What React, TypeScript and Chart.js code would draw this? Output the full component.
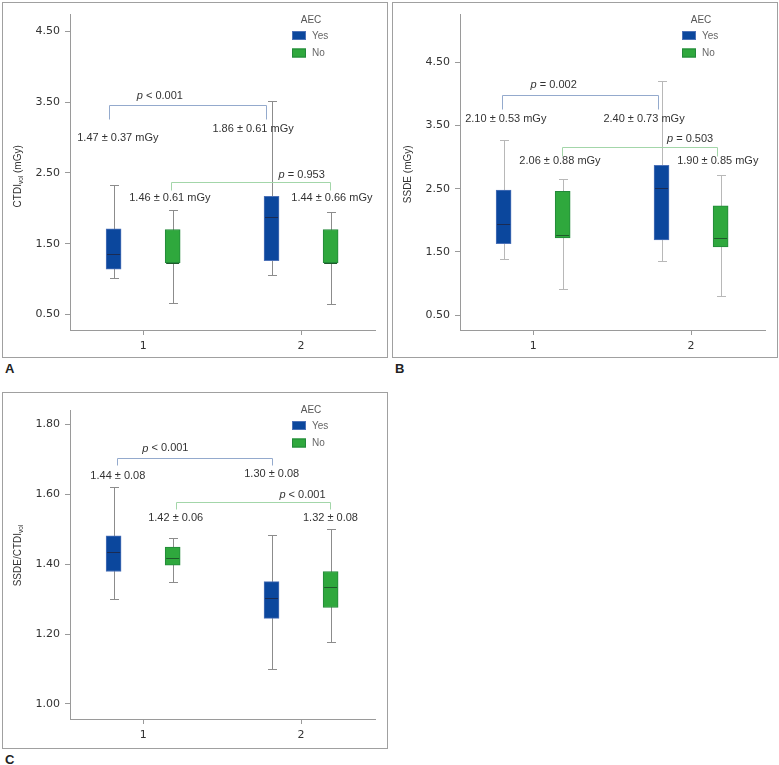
import { useEffect, useRef } from 'react';
import { Chart, registerables } from 'chart.js';

Chart.register(...registerables);

// ---------- data ----------
const groupPositions = [1, 2];
const groupLabels = ['1', '2'];
const seriesNames = ['Yes', 'No'];
const legendTitle = 'AEC';

// [min, q1, median, q3, max] for group 1 and group 2
const ctdiYes = [[1.01, 1.14, 1.35, 1.71, 2.33], [1.05, 1.26, 1.88, 2.17, 3.52]];
const ctdiNo = [[0.66, 1.23, 1.23, 1.70, 1.98], [0.64, 1.23, 1.23, 1.70, 1.95]];
const ssdeYes = [[1.39, 1.63, 1.94, 2.48, 3.27], [1.36, 1.69, 2.51, 2.87, 4.21]];
const ssdeNo = [[0.91, 1.72, 1.77, 2.46, 2.66], [0.80, 1.58, 1.72, 2.23, 2.72]];
const ratioYes = [[1.30, 1.379, 1.434, 1.481, 1.622], [1.10, 1.245, 1.303, 1.35, 1.482]];
const ratioNo = [[1.35, 1.397, 1.417, 1.449, 1.476], [1.177, 1.276, 1.334, 1.379, 1.50]];

const ctdiTicks = [0.5, 1.5, 2.5, 3.5, 4.5];
const ssdeTicks = [0.5, 1.5, 2.5, 3.5, 4.5];
const ratioTicks = [1.0, 1.2, 1.4, 1.6, 1.8];

// mean ± SD labels: Yes-1, Yes-2, No-1, No-2
const ctdiMeans = ['1.47 ± 0.37 mGy', '1.86 ± 0.61 mGy', '1.46 ± 0.61 mGy', '1.44 ± 0.66 mGy'];
const ssdeMeans = ['2.10 ± 0.53 mGy', '2.40 ± 0.73 mGy', '2.06 ± 0.88 mGy', '1.90 ± 0.85 mGy'];
const ratioMeans = ['1.44 ± 0.08', '1.30 ± 0.08', '1.42 ± 0.06', '1.32 ± 0.08'];

// p-values: Yes comparison, No comparison
const ctdiP = ['< 0.001', '= 0.953'];
const ssdeP = ['= 0.002', '= 0.503'];
const ratioP = ['< 0.001', '< 0.001'];

// ---------- layout (data coordinates of annotations) ----------
const ctdiMeanAt = [[0.84, 3.0], [1.696, 3.117], [1.169, 2.146], [2.195, 2.146]];
const ssdeMeanAt = [[0.827, 3.598], [1.702, 3.598], [1.17, 2.941], [2.169, 2.941]];
const ratioMeanAt = [[0.84, 1.653], [1.814, 1.658], [1.206, 1.533], [2.186, 1.533]];

// [x1, x2, y, yEnd, textX, textY]
const ctdiBrackets = [[0.781, 1.778, 3.459, 3.257, 1.106, 3.595], [1.178, 2.186, 2.366, 2.263, 2.004, 2.47]];
const ssdeBrackets = [[0.80, 1.793, 3.99, 3.765, 1.13, 4.149], [1.181, 2.162, 3.166, 3.02, 1.994, 3.292]];
const ratioBrackets = [[0.835, 1.814, 1.705, 1.684, 1.141, 1.731], [1.207, 2.186, 1.577, 1.558, 2.009, 1.598]];

// ---------- styles ----------
const boxOffsets = [-0.187, 0.187];
const fills = ['#0b479d', '#2fa83d'];
const borders = ['#4d72b8', '#23883a'];
const medianColors = ['#1b2b52', '#1e5a2a'];
const bracketColors = ['#94aacd', '#a3d6a9'];
const textColor = '#333333';
const axisColor = '#9a9a9a';
const tickFont = 'DejaVu Sans';
const annoFont = 'Liberation Sans';

type Panel = {
  yes: number[][];
  no: number[][];
  ticks: number[];
  yMin: number;
  yMax: number;
  means: string[];
  meanAt: number[][];
  pValues: string[];
  brackets: number[][];
  whiskerColor: string;
  titleParts: { t: string; sub?: boolean }[];
  titleDy: number;
  width: number;
  height: number;
  xAxisHeight: number;
  top: number;
};

function makePlugin(p: Panel) {
  return {
    id: 'boxAnno',
    beforeDatasetsDraw(chart: any) {
      const { ctx } = chart;
      const x = chart.scales.x;
      const y = chart.scales.y;
      ctx.save();
      ctx.strokeStyle = p.whiskerColor;
      ctx.lineWidth = 1;
      chart.data.datasets.forEach((ds: any) => {
        ds.stats.forEach((s: number[], gi: number) => {
          const px = Math.round(x.getPixelForValue(ds.data[gi].x)) + 0.5;
          const yLo = Math.round(y.getPixelForValue(s[0])) + 0.5;
          const yHi = Math.round(y.getPixelForValue(s[4])) + 0.5;
          ctx.beginPath();
          ctx.moveTo(px, yHi);
          ctx.lineTo(px, yLo);
          ctx.moveTo(px - 4.5, yHi);
          ctx.lineTo(px + 4.5, yHi);
          ctx.moveTo(px - 4.5, yLo);
          ctx.lineTo(px + 4.5, yLo);
          ctx.stroke();
        });
      });
      ctx.restore();
    },
    afterDatasetsDraw(chart: any) {
      const { ctx, chartArea } = chart;
      const x = chart.scales.x;
      const y = chart.scales.y;
      ctx.save();
      // medians
      chart.data.datasets.forEach((ds: any, di: number) => {
        const meta = chart.getDatasetMeta(di);
        ds.stats.forEach((s: number[], gi: number) => {
          const el = meta.data[gi];
          const py = Math.round(y.getPixelForValue(s[2])) + 0.5;
          ctx.strokeStyle = medianColors[di];
          ctx.lineWidth = 1;
          ctx.beginPath();
          ctx.moveTo(el.x - el.width / 2 + 1, py);
          ctx.lineTo(el.x + el.width / 2 - 1, py);
          ctx.stroke();
        });
      });
      // brackets
      p.brackets.forEach((b, bi) => {
        const x1 = Math.round(x.getPixelForValue(b[0])) + 0.5;
        const x2 = Math.round(x.getPixelForValue(b[1])) + 0.5;
        const yb = Math.round(y.getPixelForValue(b[2])) + 0.5;
        const ye = Math.round(y.getPixelForValue(b[3])) + 0.5;
        ctx.strokeStyle = bracketColors[bi];
        ctx.lineWidth = 1;
        ctx.beginPath();
        ctx.moveTo(x1, ye);
        ctx.lineTo(x1, yb);
        ctx.lineTo(x2, yb);
        ctx.lineTo(x2, ye);
        ctx.stroke();
        // p text
        const tx = x.getPixelForValue(b[4]);
        const ty = y.getPixelForValue(b[5]);
        ctx.fillStyle = textColor;
        ctx.textBaseline = 'middle';
        ctx.textAlign = 'left';
        ctx.font = `italic 11px ${annoFont}`;
        const wp = ctx.measureText('p').width;
        ctx.font = `11px ${annoFont}`;
        const rest = ' ' + p.pValues[bi];
        const wr = ctx.measureText(rest).width;
        const sx = tx - (wp + wr) / 2;
        ctx.font = `italic 11px ${annoFont}`;
        ctx.fillText('p', sx, ty);
        ctx.font = `11px ${annoFont}`;
        ctx.fillText(rest, sx + wp, ty);
      });
      // means
      ctx.fillStyle = textColor;
      ctx.font = `11px ${annoFont}`;
      ctx.textAlign = 'center';
      ctx.textBaseline = 'middle';
      p.means.forEach((m, i) => {
        ctx.fillText(m, x.getPixelForValue(p.meanAt[i][0]), y.getPixelForValue(p.meanAt[i][1]));
      });
      // legend
      const lx = chartArea.right - 83;
      ctx.fillStyle = '#555';
      ctx.font = `10px ${annoFont}`;
      ctx.textAlign = 'center';
      ctx.fillText(legendTitle, chartArea.right - 64, 17);
      chart.data.datasets.forEach((ds: any, di: number) => {
        const top = 28 + di * 17.5;
        ctx.fillStyle = ds.backgroundColor;
        ctx.fillRect(lx, top, 14, 9);
        ctx.strokeStyle = ds.borderColor;
        ctx.strokeRect(lx + 0.5, top + 0.5, 13, 8);
        ctx.fillStyle = '#666';
        ctx.textAlign = 'left';
        ctx.fillText(ds.label, lx + 20, top + 5);
      });
      // y title
      const cy = (chartArea.top + chartArea.bottom) / 2 + p.titleDy;
      ctx.translate(14.5, cy);
      ctx.rotate(-Math.PI / 2);
      ctx.fillStyle = textColor;
      ctx.textAlign = 'left';
      ctx.textBaseline = 'alphabetic';
      let total = 0;
      p.titleParts.forEach((part) => {
        ctx.font = part.sub ? `6.5px ${annoFont}` : `10px ${annoFont}`;
        total += ctx.measureText(part.t).width;
      });
      let cx = -total / 2;
      p.titleParts.forEach((part) => {
        ctx.font = part.sub ? `6.5px ${annoFont}` : `10px ${annoFont}`;
        ctx.fillText(part.t, cx, part.sub ? 5.5 : 3.5);
        cx += ctx.measureText(part.t).width;
      });
      ctx.restore();
    },
  };
}

function makeConfig(p: Panel): any {
  const datasets = [p.yes, p.no].map((stats, si) => ({
    type: 'bar',
    label: seriesNames[si],
    data: stats.map((s, gi) => ({ x: groupPositions[gi] + boxOffsets[si], y: [s[1], s[3]] })),
    stats,
    backgroundColor: fills[si],
    borderColor: borders[si],
    borderWidth: 1,
    borderSkipped: false,
    barThickness: 15,
    grouped: false,
  }));
  return {
    type: 'bar',
    data: { datasets },
    options: {
      responsive: false,
      animation: false,
      events: [],
      layout: { padding: { left: 0, right: p.width - 372, top: p.top, bottom: 0 } },
      plugins: { legend: { display: false }, tooltip: { enabled: false }, title: { display: false } },
      scales: {
        x: {
          type: 'linear',
          min: 0.537,
          max: 2.468,
          offset: false,
          afterBuildTicks: (s: any) => {
            s.ticks = groupPositions.map((v) => ({ value: v }));
          },
          afterFit: (s: any) => {
            s.height = p.xAxisHeight;
          },
          ticks: {
            callback: (v: number) => groupLabels[groupPositions.indexOf(v)] ?? '',
            color: textColor,
            font: { family: tickFont, size: 11 },
            padding: 5,
            maxRotation: 0,
          },
          grid: { offset: false, drawOnChartArea: false, drawTicks: true, tickLength: 5, color: axisColor },
          border: { display: true, color: axisColor },
        },
        y: {
          type: 'linear',
          min: p.yMin,
          max: p.yMax,
          afterBuildTicks: (s: any) => {
            s.ticks = p.ticks.map((v) => ({ value: v }));
          },
          afterFit: (s: any) => {
            s.width = 67;
          },
          ticks: {
            callback: (v: number) => v.toFixed(2),
            color: textColor,
            font: { family: tickFont, size: 11 },
            padding: 5,
          },
          grid: { offset: false, drawOnChartArea: false, drawTicks: true, tickLength: 5, color: axisColor },
          border: { display: true, color: axisColor },
        },
      },
    },
    plugins: [makePlugin(p)],
  };
}

const panelA: Panel = {
  yes: ctdiYes, no: ctdiNo, ticks: ctdiTicks, yMin: 0.279, yMax: 4.739,
  means: ctdiMeans, meanAt: ctdiMeanAt, pValues: ctdiP, brackets: ctdiBrackets,
  whiskerColor: '#8c8c8c',
  titleParts: [{ t: 'CTDI' }, { t: 'vol', sub: true }, { t: ' (mGy)' }],
  titleDy: 4, width: 384, height: 354, xAxisHeight: 27, top: 10,
};
const panelB: Panel = {
  yes: ssdeYes, no: ssdeNo, ticks: ssdeTicks, yMin: 0.264, yMax: 5.256,
  means: ssdeMeans, meanAt: ssdeMeanAt, pValues: ssdeP, brackets: ssdeBrackets,
  whiskerColor: '#b8b8b8',
  titleParts: [{ t: 'SSDE (mGy)' }],
  titleDy: 2, width: 384, height: 354, xAxisHeight: 27, top: 10,
};
const panelC: Panel = {
  yes: ratioYes, no: ratioNo, ticks: ratioTicks, yMin: 0.957, yMax: 1.841,
  means: ratioMeans, meanAt: ratioMeanAt, pValues: ratioP, brackets: ratioBrackets,
  whiskerColor: '#8c8c8c',
  titleParts: [{ t: 'SSDE/CTDI' }, { t: 'vol', sub: true }],
  titleDy: -9, width: 384, height: 355, xAxisHeight: 29, top: 17,
};

function ChartPanel({ panel, left, top, letter }: { panel: Panel; left: number; top: number; letter: string }) {
  const ref = useRef<HTMLCanvasElement>(null);
  useEffect(() => {
    if (!ref.current) return;
    const chart = new Chart(ref.current, makeConfig(panel));
    return () => chart.destroy();
  }, [panel]);
  return (
    <>
      <div
        style={{
          position: 'absolute',
          left,
          top,
          width: panel.width,
          height: panel.height,
          border: '1px solid #a0a0a0',
          background: '#fff',
        }}
      >
        <canvas ref={ref} width={panel.width} height={panel.height} style={{ display: 'block', width: panel.width, height: panel.height }} />
      </div>
      <div
        style={{
          position: 'absolute',
          left: left + 3,
          top: top + panel.height + 5,
          fontFamily: 'Liberation Sans, Arial, sans-serif',
          fontWeight: 'bold',
          fontSize: 13,
          color: '#222',
          lineHeight: '16px',
        }}
      >
        {letter}
      </div>
    </>
  );
}

export default function App() {
  return (
    <div style={{ position: 'absolute', left: 0, top: 0, width: 779, height: 765, background: '#fff' }}>
      <ChartPanel panel={panelA} left={2} top={2} letter="A" />
      <ChartPanel panel={panelB} left={392} top={2} letter="B" />
      <ChartPanel panel={panelC} left={2} top={392} letter="C" />
    </div>
  );
}
